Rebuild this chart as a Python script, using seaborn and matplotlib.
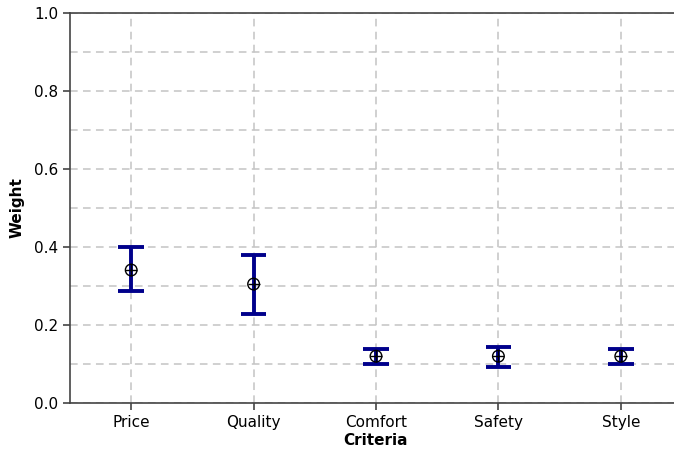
import numpy as np
import pandas as pd
import matplotlib
matplotlib.use("Agg")
import matplotlib.pyplot as plt
import seaborn as sns

categories = ["Price", "Quality", "Comfort", "Safety", "Style"]
means = [0.341, 0.305, 0.120, 0.120, 0.120]
lows = [0.288, 0.229, 0.100, 0.092, 0.100]
highs = [0.400, 0.379, 0.139, 0.143, 0.139]

sns.set_theme(style="white")
plt.rcParams['font.family'] = ['DejaVu Sans']
plt.rcParams['text.color'] = 'black'
plt.rcParams['axes.labelcolor'] = 'black'

rows = []
for c, lo, m, hi in zip(categories, lows, means, highs):
    for v in (lo, m, hi):
        rows.append({"Criteria": c, "Weight": v})
df = pd.DataFrame(rows)
dfm = pd.DataFrame({"Criteria": categories, "Weight": means})

fig = plt.figure(figsize=(6.74, 4.55), dpi=100)
ax = fig.add_axes([70/674, 1-403/455, 612/674, 390/455])

navy = "#00008b"
sns.pointplot(data=df, x="Criteria", y="Weight", order=categories,
              estimator="median", errorbar=("pi", 100), capsize=0.21,
              linestyle="none", markers="", color=navy,
              err_kws={"linewidth": 2.8, "solid_capstyle": "butt"}, ax=ax)
sns.scatterplot(data=dfm, x="Criteria", y="Weight", marker="o", s=70,
                facecolors="none", edgecolor="black", linewidth=1.0, ax=ax, zorder=5)
sns.scatterplot(data=dfm, x="Criteria", y="Weight", marker="+", s=80,
                color="black", linewidth=1.0, ax=ax, zorder=6)

ax.set_xlim(-0.5, 4.5)
ax.set_ylim(0, 1.0)
ax.set_yticks(np.arange(0, 1.01, 0.2))
ax.set_yticks(np.arange(0.1, 1.0, 0.2), minor=True)
ax.set_yticklabels([f"{v:.1f}" for v in np.arange(0, 1.01, 0.2)])

grid_kw = dict(color="#c4c4c4", linestyle=(0, (5, 3.5)), linewidth=1.1)
ax.grid(True, which="major", axis="both", **grid_kw)
ax.grid(True, which="minor", axis="y", **grid_kw)
ax.set_axisbelow(True)

for s in ["left", "bottom", "top"]:
    ax.spines[s].set_visible(True)
    ax.spines[s].set_color("#444444")
    ax.spines[s].set_linewidth(1.2)
ax.spines["right"].set_visible(False)

ax.tick_params(axis="both", which="major", direction="out", length=5, width=1.2,
               color="#444444", labelsize=11, labelcolor="black", left=True, bottom=True)
ax.tick_params(axis="y", which="minor", length=0)

ax.set_xlabel("Criteria", fontsize=11, fontweight="bold", labelpad=2, color="black")
ax.set_ylabel("Weight", fontsize=11, fontweight="bold", labelpad=7, color="black")

fig.savefig("out.png", dpi=100)
